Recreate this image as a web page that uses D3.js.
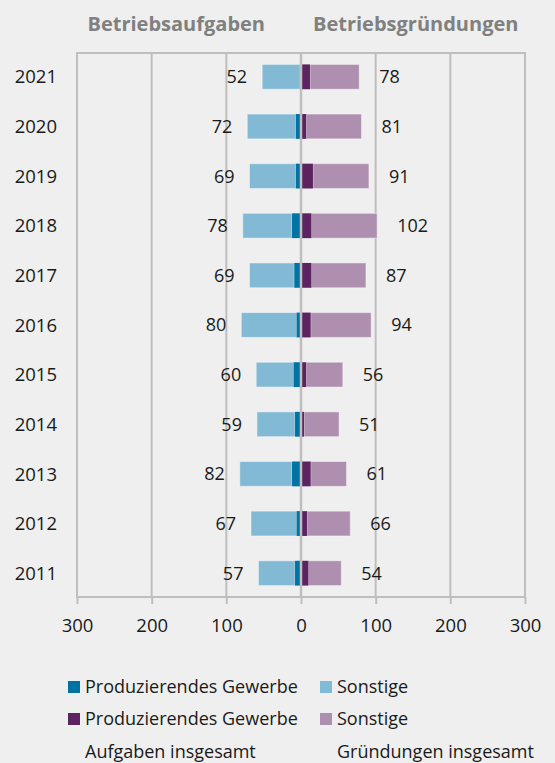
<!DOCTYPE html>
<html>
<head>
<meta charset="utf-8">
<script src="https://cdn.jsdelivr.net/npm/d3@7"></script>
<style>
  html, body { margin: 0; padding: 0; background: #eeefee; }
  svg { display: block; font-family: "Open Sans", "Noto Sans", sans-serif; }
</style>
</head>
<body>
<svg id="chart" width="555" height="763"></svg>
<script>
const years = ["2011","2012","2013","2014","2015","2016","2017","2018","2019","2020","2021"];
const aufgabenProd  = [8, 6, 12, 8, 10, 6, 9, 12, 7, 7, 1];
const aufgabenTotal = [57, 67, 82, 59, 60, 80, 69, 78, 69, 72, 52];
const gruendProd    = [10, 8, 13, 4, 7, 13, 14, 14, 16, 7, 12];
const gruendTotal   = [54, 66, 61, 51, 56, 94, 87, 102, 91, 81, 78];
const tickValues = [-300, -200, -100, 0, 100, 200, 300];
const headers = ["Betriebsaufgaben", "Betriebsgründungen"];
const legendRows = [
  [{label: "Produzierendes Gewerbe", color: "#0073a4"}, {label: "Sonstige", color: "#82bad5"}],
  [{label: "Produzierendes Gewerbe", color: "#5c2361"}, {label: "Sonstige", color: "#ae8faf"}],
  [{label: "Aufgaben insgesamt", color: null}, {label: "Gründungen insgesamt", color: null}]
];

const colors = {aProd: "#0073a4", aSon: "#82bad5", gProd: "#5c2361", gSon: "#ae8faf", grid: "#bebebe", text: "#1a1a1a", head: "#808080"};

const svg = d3.select("#chart");
const x = d3.scaleLinear().domain([-300, 300]).range([77, 525]);
const y = d3.scaleBand().domain(years.slice().reverse()).range([52, 598]).paddingInner(0.5).paddingOuter(0.25);

const data = years.map((yr, i) => ({
  year: yr,
  aProd: aufgabenProd[i], aTot: aufgabenTotal[i],
  gProd: gruendProd[i], gTot: gruendTotal[i]
}));

// grid
const gGrid = svg.append("g");
gGrid.selectAll("line.v").data(tickValues).join("line")
  .attr("x1", d => x(d)).attr("x2", d => x(d))
  .attr("y1", 53).attr("y2", 597)
  .attr("stroke", colors.grid).attr("stroke-width", 2);
gGrid.append("line").attr("x1", x(-300) - 1).attr("x2", x(300) + 1).attr("y1", 53).attr("y2", 53)
  .attr("stroke", colors.grid).attr("stroke-width", 2);

// bars
const gBars = svg.append("g");
const bw = y.bandwidth();
const barStroke = sel => sel.attr("stroke", "#ffffff").attr("stroke-opacity", 0.45).attr("stroke-width", 1);
gBars.selectAll("rect.aSon").data(data).join("rect")
  .attr("x", d => x(-d.aTot)).attr("width", d => x(-d.aProd) - x(-d.aTot))
  .attr("y", d => y(d.year)).attr("height", bw).attr("fill", colors.aSon).call(barStroke);
gBars.selectAll("rect.aProd").data(data).join("rect")
  .attr("x", d => x(-d.aProd)).attr("width", d => x(0) - x(-d.aProd))
  .attr("y", d => y(d.year)).attr("height", bw).attr("fill", colors.aProd);
gBars.selectAll("rect.gSon").data(data).join("rect")
  .attr("x", d => x(d.gProd)).attr("width", d => x(d.gTot) - x(d.gProd))
  .attr("y", d => y(d.year)).attr("height", bw).attr("fill", colors.gSon).call(barStroke);
gBars.selectAll("rect.gProd").data(data).join("rect")
  .attr("x", d => x(0)).attr("width", d => x(d.gProd) - x(0))
  .attr("y", d => y(d.year)).attr("height", bw).attr("fill", colors.gProd);

// center gridline on top
svg.append("line").attr("x1", x(0)).attr("x2", x(0)).attr("y1", 53).attr("y2", 597)
  .attr("stroke", colors.grid).attr("stroke-width", 2.5);

// bottom axis
const axis = svg.append("g").attr("transform", "translate(0,597)")
  .call(d3.axisBottom(x).tickValues(tickValues).tickFormat(d => Math.abs(d)).tickSize(7).tickPadding(15));
axis.select(".domain").attr("stroke", colors.grid).attr("stroke-width", 2)
  .attr("d", `M${x(-300)-1},0H${x(300)+1}`);
axis.selectAll(".tick line").attr("stroke", colors.grid).attr("stroke-width", 2);
axis.selectAll(".tick text").attr("fill", colors.text).attr("font-size", 18.5)
  .attr("font-family", "'Open Sans', sans-serif");

// value labels
const gLab = svg.append("g").attr("font-size", 18).attr("fill", colors.text);
gLab.selectAll("text.a").data(data).join("text")
  .attr("x", d => x(-d.aTot) - 15).attr("y", d => y(d.year) + bw / 2)
  .attr("dy", "0.36em").attr("text-anchor", "end").text(d => d.aTot);
gLab.selectAll("text.g").data(data).join("text")
  .attr("x", d => x(d.gTot) + 20).attr("y", d => y(d.year) + bw / 2)
  .attr("dy", "0.36em").attr("text-anchor", "start").text(d => d.gTot);

// year labels
svg.append("g").attr("font-size", 18.5).attr("fill", colors.text)
  .selectAll("text").data(data).join("text")
  .attr("x", 57).attr("y", d => y(d.year) + bw / 2).attr("dy", "0.36em")
  .attr("text-anchor", "end").text(d => d.year);

// headers
svg.append("text").attr("x", 265).attr("y", 31).attr("text-anchor", "end")
  .attr("font-size", 20).attr("font-weight", 700).attr("fill", colors.head).text(headers[0]);
svg.append("text").attr("x", 313).attr("y", 31).attr("text-anchor", "start")
  .attr("font-size", 20).attr("font-weight", 700).attr("fill", colors.head).text(headers[1]);

// legend
const colX = [68, 320];
const rowY = [687, 719, 752];
legendRows.forEach((row, r) => {
  row.forEach((item, c) => {
    if (item.color) {
      svg.append("rect").attr("x", colX[c]).attr("y", rowY[r] - 6).attr("width", 12).attr("height", 12)
        .attr("fill", item.color);
    }
    svg.append("text").attr("x", colX[c] + 17).attr("y", rowY[r]).attr("dy", "0.36em")
      .attr("font-size", 18).attr("fill", colors.text).text(item.label);
  });
});
</script>
</body>
</html>
